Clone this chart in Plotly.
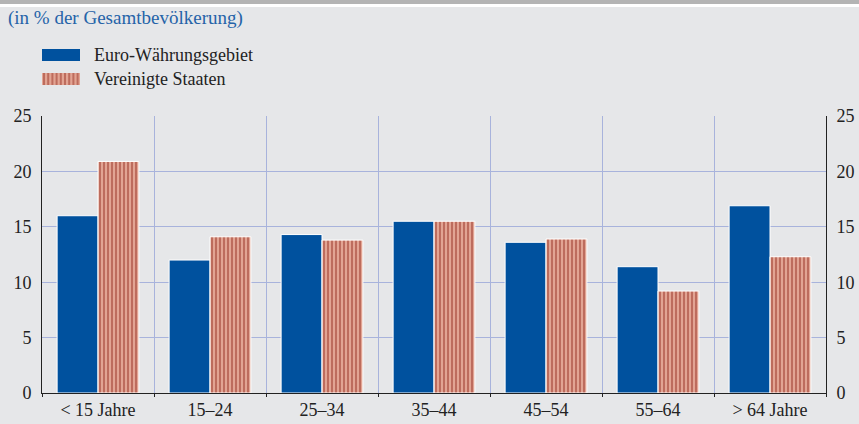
import plotly.graph_objects as go

categories = ["< 15 Jahre", "15–24", "25–34", "35–44", "45–54", "55–64", "> 64 Jahre"]
euro_area = [16.0, 12.0, 14.3, 15.5, 13.6, 11.4, 16.9]
united_states = [20.9, 14.1, 13.8, 15.5, 13.9, 9.2, 12.3]
series_names = ["Euro-Währungsgebiet", "Vereinigte Staaten"]
y_ticks = [0, 5, 10, 15, 20, 25]

W, H = 859, 424
ML, MR, MT, MB = 42, 33, 116, 31
PW, PH = W - ML - MR, H - MT - MB

def px_x(x):
    return (x - ML) / PW

def px_y(y):
    return (H - MB - y) / PH

BLUE = "#00519e"
RED_BG = "#e2a493"
RED_FG = "#bd6c5d"
GRID = "#a8b3dc"
FONT = "Liberation Serif, Times New Roman, serif"

fig = go.Figure()
fig.add_trace(go.Bar(
    x=categories, y=euro_area, name=series_names[0],
    marker=dict(color=BLUE, line=dict(color="white", width=1)),
    showlegend=False,
))
fig.add_trace(go.Bar(
    x=categories, y=united_states, name=series_names[1],
    marker=dict(color=RED_BG, line=dict(color="white", width=1),
                pattern=dict(shape="|", fgcolor=RED_FG, bgcolor=RED_BG,
                             size=4, solidity=0.5, fillmode="replace")),
    showlegend=False,
))
fig.add_trace(go.Scatter(x=categories, y=[None] * len(categories), yaxis="y2",
                         showlegend=False, hoverinfo="skip"))

shapes = []
# top band
shapes.append(dict(type="rect", xref="paper", yref="paper", x0=px_x(0), x1=px_x(W),
                   y0=px_y(0), y1=px_y(4), fillcolor="#b4b4b4", line=dict(width=0), layer="below"))
shapes.append(dict(type="rect", xref="paper", yref="paper", x0=px_x(0), x1=px_x(W),
                   y0=px_y(4), y1=px_y(7), fillcolor="#ffffff", line=dict(width=0), layer="below"))

# manual legend swatches
sw_x0, sw_x1 = 42, 80
for i, yc in enumerate([55, 79]):
    y0, y1 = yc - 6, yc + 6
    if i == 0:
        shapes.append(dict(type="rect", xref="paper", yref="paper",
                           x0=px_x(sw_x0), x1=px_x(sw_x1), y0=px_y(y1), y1=px_y(y0),
                           fillcolor=BLUE, line=dict(width=0)))
    else:
        shapes.append(dict(type="rect", xref="paper", yref="paper",
                           x0=px_x(sw_x0), x1=px_x(sw_x1), y0=px_y(y1), y1=px_y(y0),
                           fillcolor=RED_BG, line=dict(width=0)))
        parts = []
        xs = sw_x0 + 1
        while xs + 2 <= sw_x1:
            parts.append("M{:.5f},{:.5f} L{:.5f},{:.5f} L{:.5f},{:.5f} L{:.5f},{:.5f} Z".format(
                px_x(xs), px_y(y0), px_x(xs + 2), px_y(y0), px_x(xs + 2), px_y(y1), px_x(xs), px_y(y1)))
            xs += 4.2
        shapes.append(dict(type="path", xref="paper", yref="paper", path=" ".join(parts),
                           fillcolor=RED_FG, line=dict(width=0)))

annotations = [
    dict(text="(in % der Gesamtbevölkerung)", xref="paper", yref="paper",
         x=px_x(6), y=px_y(18), xanchor="left", yanchor="middle", showarrow=False,
         font=dict(family=FONT, size=19, color="#2563a8")),
]
for name, yc in zip(series_names, [55, 79]):
    annotations.append(dict(text=name, xref="paper", yref="paper", x=px_x(92), y=px_y(yc),
                            xanchor="left", yanchor="middle", showarrow=False,
                            font=dict(family=FONT, size=18, color="#222222")))

fig.update_layout(
    width=W, height=H,
    margin=dict(l=ML, r=MR, t=MT, b=MB, pad=0, autoexpand=False),
    paper_bgcolor="#e6e7e9", plot_bgcolor="#e6e7e9",
    barmode="group", bargap=0.27, bargroupgap=0,
    font=dict(family=FONT, size=18, color="#222222"),
    xaxis=dict(type="category", tickson="boundaries", showgrid=True, gridcolor=GRID, gridwidth=1,
               showline=True, linecolor="#222222", linewidth=1, automargin=False,
               ticks="outside", ticklen=3, tickcolor="#222222",
               tickfont=dict(family=FONT, size=18, color="#222222")),
    yaxis=dict(range=[0, 25], tickvals=y_ticks, showgrid=True, gridcolor=GRID, gridwidth=1,
               zeroline=False, showline=True, linecolor="#222222", linewidth=1, automargin=False,
               ticks="", ticklabelstandoff=6, tickfont=dict(family=FONT, size=18, color="#222222")),
    yaxis2=dict(range=[0, 25], tickvals=y_ticks, overlaying="y", side="right", showgrid=False,
                zeroline=False, showline=True, linecolor="#222222", linewidth=1, automargin=False,
                ticks="", ticklabelstandoff=6, tickfont=dict(family=FONT, size=18, color="#222222")),
    shapes=shapes, annotations=annotations,
)

fig.write_html("out.html", config={"displayModeBar": False},
               post_script="document.body.style.margin='0';")
